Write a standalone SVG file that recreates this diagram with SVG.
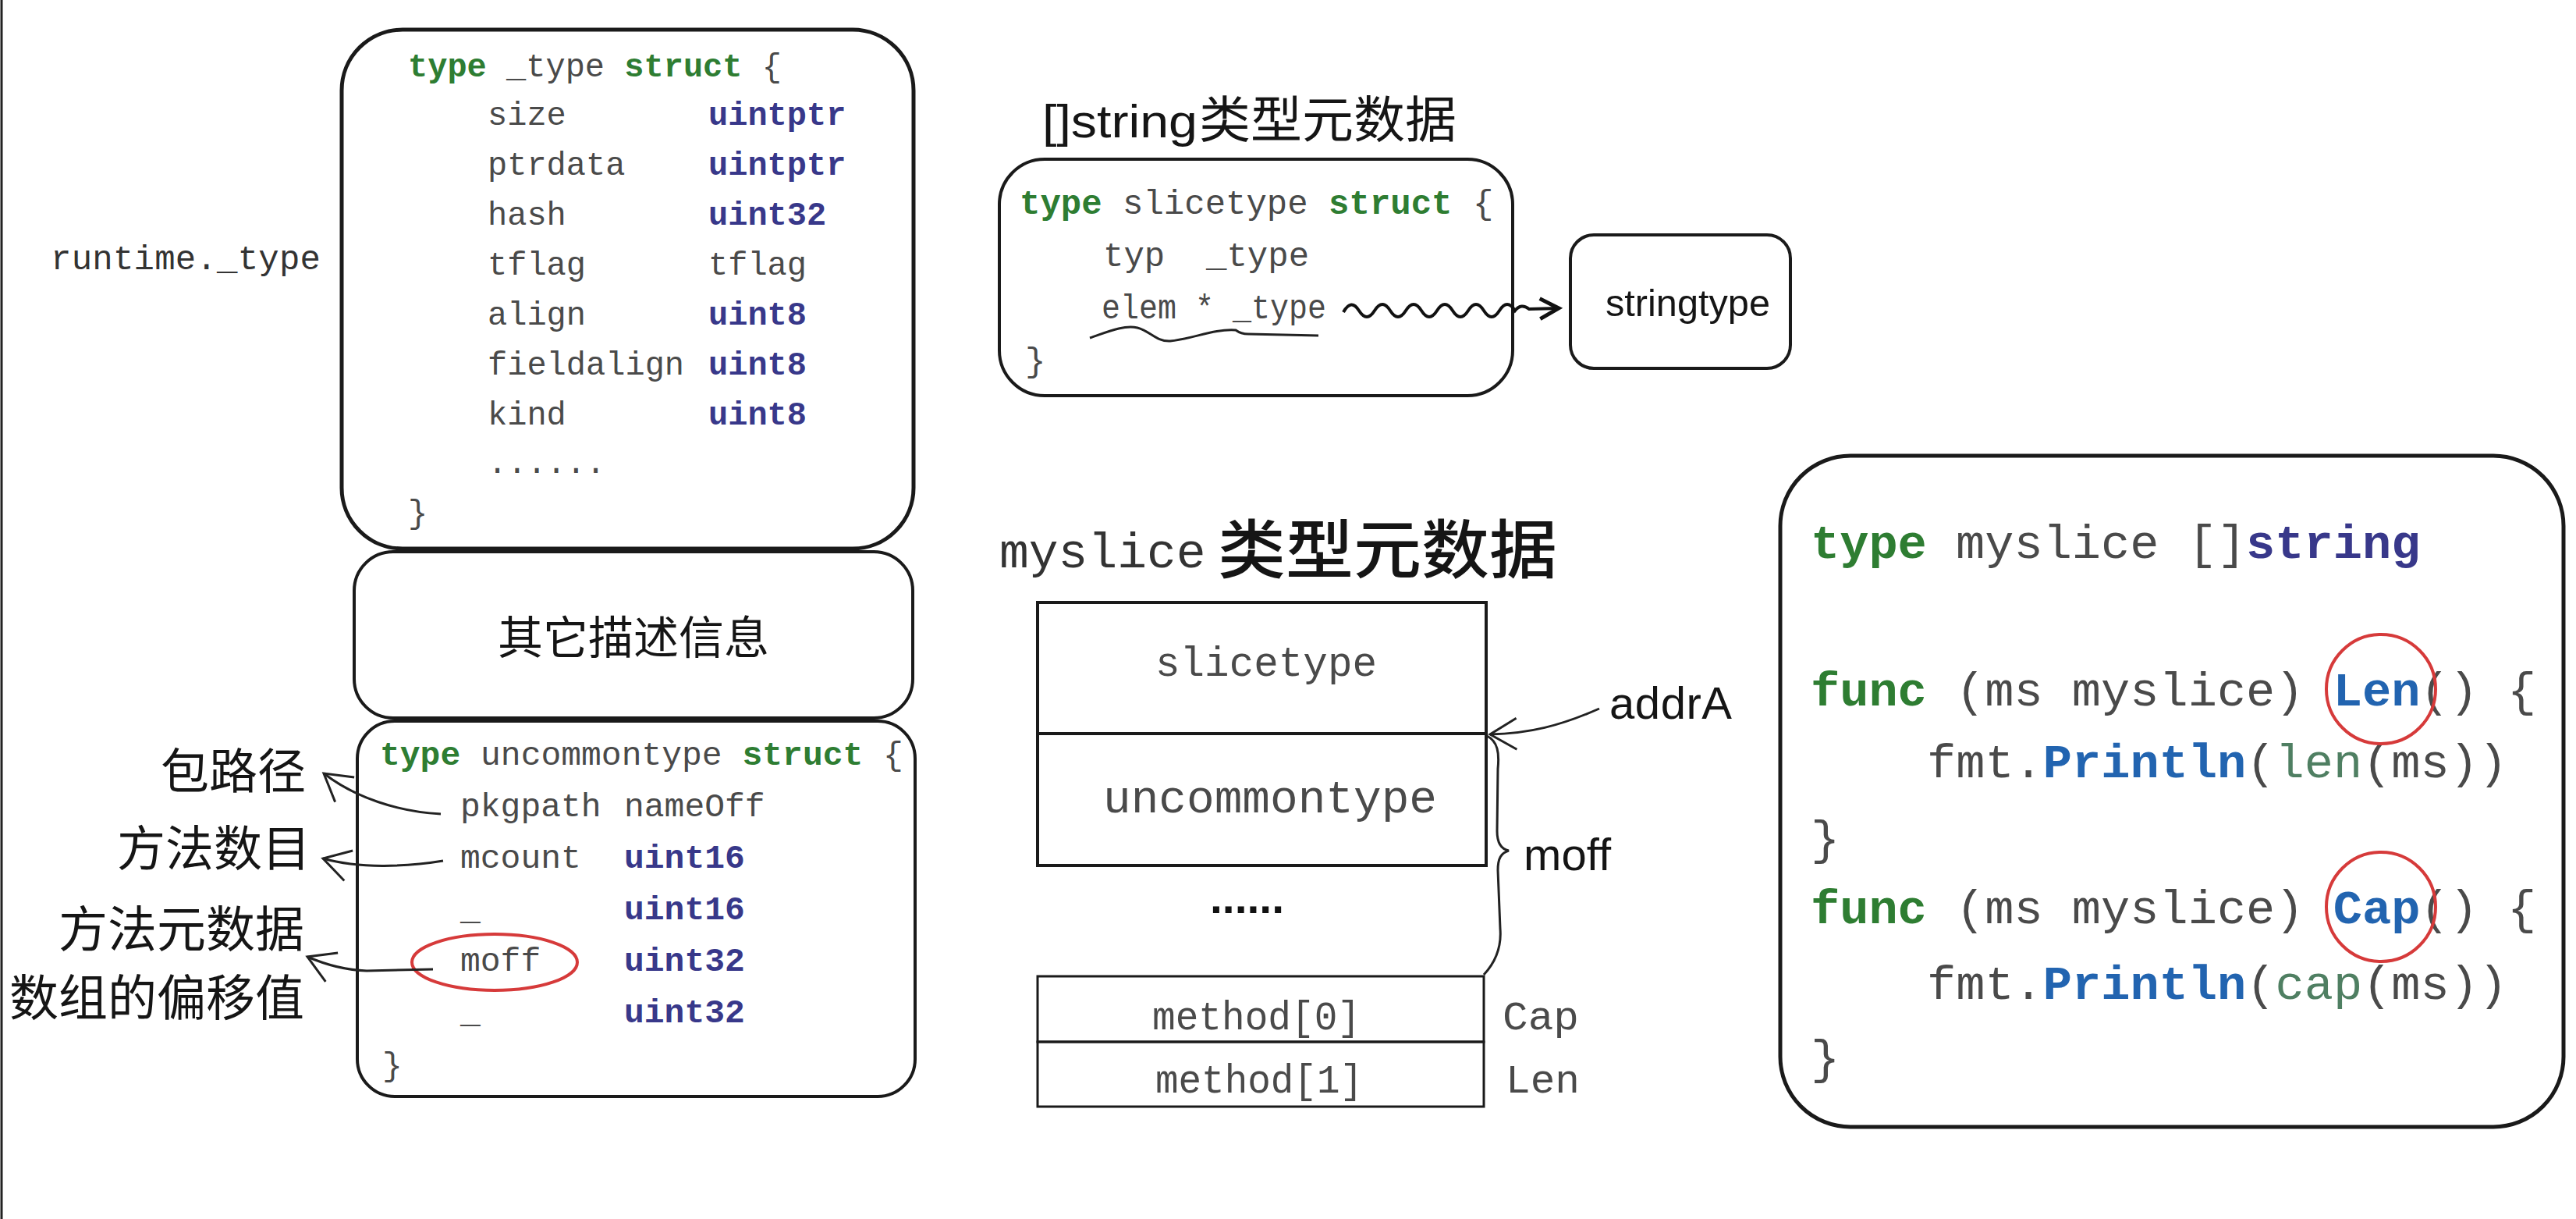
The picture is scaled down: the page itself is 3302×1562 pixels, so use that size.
<svg xmlns="http://www.w3.org/2000/svg" width="3302" height="1562" viewBox="0 0 3302 1562">
<style>
.box{fill:#fff;stroke:#1a1a1a;stroke-width:4}
.thick{stroke-width:5}
.code{font-family:"Liberation Mono",monospace;fill:#4a4a4a}
.kw{fill:#2e7d32;font-weight:bold}
.ty{fill:#38388a;font-weight:bold}
.fn{fill:#2264b0;font-weight:bold}
.bi{fill:#4f7f62}
.hand{font-family:"Liberation Sans",sans-serif;fill:#151515}
.cjk{font-family:"Noto Sans CJK SC",sans-serif;fill:#151515}
.red{fill:none;stroke:#d63a3a;stroke-width:4}
.conn{fill:none;stroke:#222;stroke-width:3}
</style>
<defs>
<marker id="chev" viewBox="-40 -25 46 50" refX="0" refY="0" markerWidth="46" markerHeight="50" markerUnits="userSpaceOnUse" orient="auto">
<path d="M -34 -20 L 0 0 L -34 20" fill="none" stroke="#222" stroke-width="3"/>
</marker>
<marker id="chev2" viewBox="-30 -20 36 40" refX="0" refY="0" markerWidth="36" markerHeight="40" markerUnits="userSpaceOnUse" orient="auto">
<path d="M -24 -13 L 0 0 L -24 13" fill="none" stroke="#111" stroke-width="5"/>
</marker>
</defs>
<rect width="3302" height="1562" fill="#fff"/>
<line x1="2" y1="0" x2="2" y2="1562" stroke="#222" stroke-width="3"/>

<g id="runtime-type-label">
<text class="code" x="65" y="345" font-size="44" textLength="346" style="fill:#333">runtime._type</text>
</g>

<g id="type-struct">
<rect class="box thick" x="438" y="38" width="733" height="665" rx="78"/>
<text class="code" font-size="42" xml:space="preserve"><tspan x="523" y="98"><tspan class="kw">type</tspan> _type <tspan class="kw">struct</tspan> {</tspan></text>
<text class="code" font-size="42">
<tspan x="625" y="160">size</tspan><tspan x="908" y="160" class="ty">uintptr</tspan>
<tspan x="625" y="224">ptrdata</tspan><tspan x="908" y="224" class="ty">uintptr</tspan>
<tspan x="625" y="288">hash</tspan><tspan x="908" y="288" class="ty">uint32</tspan>
<tspan x="625" y="352">tflag</tspan><tspan x="908" y="352">tflag</tspan>
<tspan x="625" y="416">align</tspan><tspan x="908" y="416" class="ty">uint8</tspan>
<tspan x="625" y="480">fieldalign</tspan><tspan x="908" y="480" class="ty">uint8</tspan>
<tspan x="625" y="544">kind</tspan><tspan x="908" y="544" class="ty">uint8</tspan>
<tspan x="625" y="606">......</tspan>
<tspan x="523" y="670">}</tspan>
</text>
</g>

<g id="other-info">
<rect class="box" x="454" y="707" width="716" height="213" rx="50"/>
<text class="cjk" x="812" y="838" font-size="58" text-anchor="middle">其它描述信息</text>
</g>

<g id="uncommontype-struct">
<rect class="box" x="458" y="924" width="715" height="481" rx="48"/>
<text class="code" font-size="43" xml:space="preserve"><tspan x="487" y="980"><tspan class="kw">type</tspan> uncommontype <tspan class="kw">struct</tspan> {</tspan></text>
<text class="code" font-size="43">
<tspan x="590" y="1046">pkgpath</tspan><tspan x="800" y="1046">nameOff</tspan>
<tspan x="590" y="1112">mcount</tspan><tspan x="800" y="1112" class="ty">uint16</tspan>
<tspan x="590" y="1178">_</tspan><tspan x="800" y="1178" class="ty">uint16</tspan>
<tspan x="590" y="1244">moff</tspan><tspan x="800" y="1244" class="ty">uint32</tspan>
<tspan x="590" y="1310">_</tspan><tspan x="800" y="1310" class="ty">uint32</tspan>
<tspan x="490" y="1378">}</tspan>
</text>
<ellipse class="red" cx="634" cy="1233" rx="106" ry="36"/>
</g>

<g id="labels-left">
<text class="cjk" x="392" y="1011" font-size="62" text-anchor="end">包路径</text>
<text class="cjk" x="398" y="1110" font-size="62" text-anchor="end">方法数目</text>
<text class="cjk" x="390" y="1213" font-size="63" text-anchor="end">方法元数据</text>
<text class="cjk" x="390" y="1301" font-size="63" text-anchor="end">数组的偏移值</text>
</g>

<g id="string-title">
<text class="hand" x="1336" y="176" font-size="60" textLength="199" lengthAdjust="spacingAndGlyphs">[]string</text>
<text class="cjk" x="1537" y="176" font-size="64" textLength="330" lengthAdjust="spacingAndGlyphs">类型元数据</text>
</g>

<g id="slicetype-struct">
<rect class="box" x="1281" y="204" width="658" height="303" rx="58"/>
<text class="code" font-size="44" xml:space="preserve"><tspan x="1307" y="274"><tspan class="kw">type</tspan> slicetype <tspan class="kw">struct</tspan> {</tspan><tspan x="1414" y="341">typ  _type</tspan><tspan x="1314" y="476">}</tspan></text>
<text class="code" font-size="44" x="1412" y="408" xml:space="preserve" textLength="288" lengthAdjust="spacingAndGlyphs">elem * _type</text>
<path d="M 1397 433 C 1418 426 1440 416 1458 420 C 1474 424 1482 438 1500 437 C 1530 434 1556 421 1584 423 C 1588 426 1592 428 1600 428 L 1690 430" fill="none" stroke="#222" stroke-width="3"/>
</g>

<g id="stringtype">
<rect class="box" x="2013" y="301" width="282" height="171" rx="30"/>
<text class="hand" x="2058" y="405" font-size="48" textLength="211" lengthAdjust="spacingAndGlyphs">stringtype</text>
</g>

<g id="myslice-title">
<text class="code" x="1281" y="727" font-size="63" style="fill:#333">myslice</text>
<text class="cjk" x="1561" y="734" font-size="82" font-weight="500" textLength="435" lengthAdjust="spacingAndGlyphs">类型元数据</text>
</g>

<g id="myslice-layout">
<rect x="1330" y="772" width="575" height="168" fill="none" stroke="#1a1a1a" stroke-width="4"/>
<rect x="1330" y="940" width="575" height="169" fill="none" stroke="#1a1a1a" stroke-width="4"/>
<text class="code" x="1481" y="866" font-size="54" textLength="284" lengthAdjust="spacingAndGlyphs">slicetype</text>
<text class="code" x="1414" y="1041" font-size="59" textLength="428" lengthAdjust="spacingAndGlyphs">uncommontype</text>
<text x="1551" y="1170" font-family="Liberation Sans,sans-serif" font-weight="bold" font-size="57" fill="#111" textLength="95" lengthAdjust="spacing">......</text>
<rect x="1330" y="1251" width="572" height="84" fill="none" stroke="#1a1a1a" stroke-width="3"/>
<rect x="1330" y="1335" width="572" height="83" fill="none" stroke="#1a1a1a" stroke-width="3"/>
<text class="code" x="1477" y="1319" font-size="52" textLength="267" lengthAdjust="spacingAndGlyphs">method[0]</text>
<text class="code" x="1481" y="1400" font-size="52" textLength="266" lengthAdjust="spacingAndGlyphs">method[1]</text>
<text class="code" x="1926" y="1319" font-size="52" textLength="98" lengthAdjust="spacingAndGlyphs">Cap</text>
<text class="code" x="1930" y="1400" font-size="52" textLength="95" lengthAdjust="spacingAndGlyphs">Len</text>
<text class="hand" x="2063" y="921" font-size="58" textLength="157" lengthAdjust="spacing">addrA</text>
<text class="hand" x="1953" y="1115" font-size="58" textLength="112" lengthAdjust="spacing">moff</text>
</g>

<g id="myslice-code">
<rect class="box thick" x="2282" y="584" width="1004" height="860" rx="90"/>
<text class="code" font-size="62" xml:space="preserve"><tspan x="2321" y="715"><tspan class="kw">type</tspan> myslice []<tspan class="ty">string</tspan></tspan><tspan x="2321" y="904"><tspan class="kw">func</tspan> (ms myslice) <tspan class="fn">Len</tspan>() {</tspan><tspan x="2470" y="996">fmt.<tspan class="fn">Println</tspan>(<tspan class="bi">len</tspan>(ms))</tspan><tspan x="2321" y="1094">}</tspan><tspan x="2321" y="1183"><tspan class="kw">func</tspan> (ms myslice) <tspan class="fn">Cap</tspan>() {</tspan><tspan x="2470" y="1280">fmt.<tspan class="fn">Println</tspan>(<tspan class="bi">cap</tspan>(ms))</tspan><tspan x="2321" y="1375">}</tspan></text>
<ellipse class="red" cx="3052" cy="883" rx="70" ry="70"/>
<ellipse class="red" cx="3052" cy="1162" rx="70" ry="70"/>
</g>

<g id="connectors">
<path class="conn" d="M 565 1043 C 510 1040 455 1022 415 991" marker-end="url(#chev)"/>
<path class="conn" d="M 568 1103 C 520 1111 460 1113 414 1100" marker-end="url(#chev)"/>
<path class="conn" d="M 555 1242 L 470 1244 C 440 1243 415 1235 394 1226" marker-end="url(#chev)"/>
<path class="conn" d="M 2050 908 C 2000 930 1960 940 1910 941" marker-end="url(#chev)"/>
<path d="M 1722 400 Q 1732 382 1742 398 T 1762 398 T 1782 398 T 1802 398 T 1822 398 T 1842 398 T 1862 398 T 1882 398 T 1902 398 T 1922 398 T 1942 398 Q 1950 388 1960 396 L 1998 395" fill="none" stroke="#111" stroke-width="4" marker-end="url(#chev2)"/>
<path class="conn" d="M 1906 943 C 1920 950 1922 965 1920 985 L 1919 1065 C 1919 1080 1924 1088 1934 1090 C 1924 1093 1920 1100 1920 1115 L 1923 1190 C 1925 1215 1915 1235 1902 1249"/>
</g>
</svg>
